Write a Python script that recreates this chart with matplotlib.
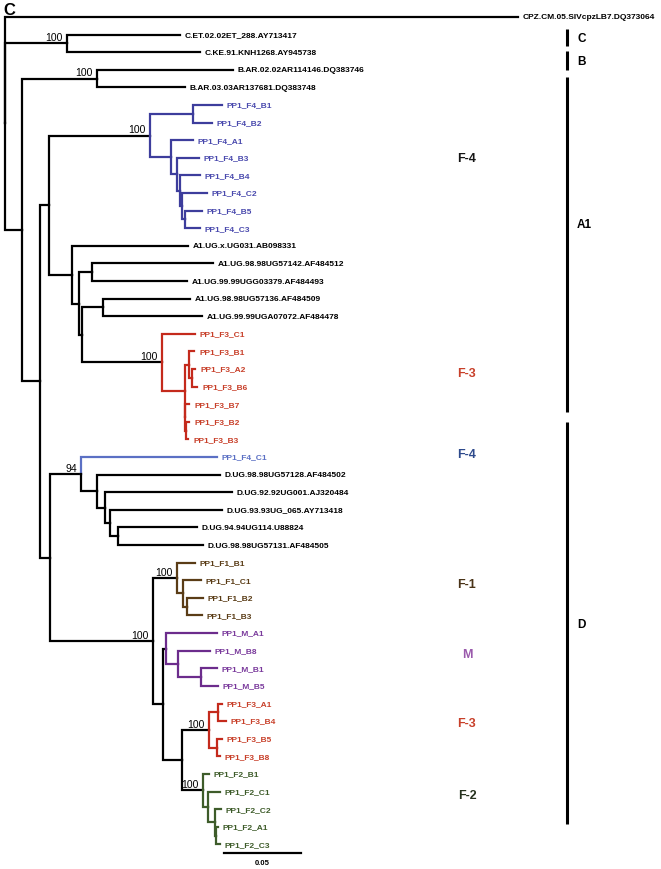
import matplotlib
matplotlib.use("Agg")
import matplotlib.pyplot as plt

plt.rcParams['font.family'] = ['Liberation Sans', 'DejaVu Sans']

# tree: node name, parent, branch length (substitutions/site); children listed in drawing order
node_names = [
    "root",
    "CPZ.CM.05.SIVcpzLB7.DQ373064",
    "nC", "C.ET.02.02ET_288.AY713417", "C.KE.91.KNH1268.AY945738",
    "n22",
    "nB", "B.AR.02.02AR114146.DQ383746", "B.AR.03.03AR137681.DQ383748",
    "n40", "n49",
    "nF4", "f4a", "PP1_F4_B1", "PP1_F4_B2",
    "f4b", "PP1_F4_A1", "f4c", "PP1_F4_B3", "f4d", "PP1_F4_B4", "f4e", "PP1_F4_C2",
    "f4f", "PP1_F4_B5", "PP1_F4_C3",
    "a1a", "A1.UG.x.UG031.AB098331", "a1b",
    "a1c", "A1.UG.98.98UG57142.AF484512", "A1.UG.99.99UGG03379.AF484493",
    "a1d", "a1e", "A1.UG.98.98UG57136.AF484509", "A1.UG.99.99UGA07072.AF484478",
    "nF3a", "PP1_F3_C1", "f3a", "f3b", "PP1_F3_B1", "f3c", "PP1_F3_A2", "PP1_F3_B6",
    "f3d", "PP1_F3_B7", "f3e", "PP1_F3_B2", "PP1_F3_B3",
    "n50", "n94", "PP1_F4_C1",
    "d1", "D.UG.98.98UG57128.AF484502", "d2", "D.UG.92.92UG001.AJ320484",
    "d3", "D.UG.93.93UG_065.AY713418", "d4", "D.UG.94.94UG114.U88824", "D.UG.98.98UG57131.AF484505",
    "n153",
    "nF1", "PP1_F1_B1", "f1a", "PP1_F1_C1", "f1b", "PP1_F1_B2", "PP1_F1_B3",
    "n163",
    "nM", "PP1_M_A1", "m1", "PP1_M_B8", "m2", "PP1_M_B1", "PP1_M_B5",
    "n182",
    "nF3b", "g1", "PP1_F3_A1", "PP1_F3_B4", "g2", "PP1_F3_B5", "PP1_F3_B8",
    "nF2", "PP1_F2_B1", "h1", "PP1_F2_C1", "h2", "PP1_F2_C2", "h3", "PP1_F2_A1", "PP1_F2_C3",
]
node_parents = [
    None,
    "root",
    "root", "nC", "nC",
    "root",
    "n22", "nB", "nB",
    "n22", "n40",
    "n49", "nF4", "f4a", "f4a",
    "nF4", "f4b", "f4b", "f4c", "f4c", "f4d", "f4d", "f4e",
    "f4e", "f4f", "f4f",
    "n49", "a1a", "a1a",
    "a1b", "a1c", "a1c",
    "a1b", "a1d", "a1e", "a1e",
    "a1d", "nF3a", "nF3a", "f3a", "f3b", "f3b", "f3c", "f3c",
    "f3a", "f3d", "f3d", "f3e", "f3e",
    "n40", "n50", "n94",
    "n94", "d1", "d1", "d2",
    "d2", "d3", "d3", "d4", "d4",
    "n50",
    "n153", "nF1", "nF1", "f1a", "f1a", "f1b", "f1b",
    "n153",
    "n163", "nM", "nM", "m1", "m1", "m2", "m2",
    "n163",
    "n182", "nF3b", "g1", "g1", "nF3b", "g2", "g2",
    "n182", "nF2", "nF2", "h1", "h1", "h2", "h2", "h3", "h3",
]
branch_lengths = [
    0.0,
    0.3331,
    0.0403, 0.0734, 0.0864,
    0.0110,
    0.0487, 0.0883, 0.0571,
    0.0117, 0.0058,
    0.0656, 0.0279, 0.0188, 0.0123,
    0.0136, 0.0143, 0.0039, 0.0143, 0.0019, 0.0130, 0.0013, 0.0162,
    0.0019, 0.0110, 0.0097,
    0.0149, 0.0753, 0.0045,
    0.0084, 0.0786, 0.0617,
    0.0019, 0.0136, 0.0565, 0.0643,
    0.0519, 0.0214, 0.0149, 0.0032, 0.0032, 0.0019, 0.0019, 0.0032,
    0.0006, 0.0026, 0.0006, 0.0019, 0.0013,
    0.0065, 0.0201, 0.0883,
    0.0104, 0.0799, 0.0052, 0.0825,
    0.0032, 0.0727, 0.0052, 0.0513, 0.0552,
    0.0669,
    0.0156, 0.0117, 0.0039, 0.0117, 0.0026, 0.0104, 0.0097,
    0.0065,
    0.0019, 0.0331, 0.0078, 0.0208, 0.0149, 0.0104, 0.0110,
    0.0123,
    0.0175, 0.0058, 0.0026, 0.0052, 0.0052, 0.0032, 0.0019,
    0.0136, 0.0039, 0.0032, 0.0078, 0.0045, 0.0039, 0.0006, 0.0013, 0.0026,
]

bootstrap = {"nC": 100, "nB": 100, "nF4": 100, "nF3a": 100, "n94": 94,
             "n153": 100, "nF1": 100, "nF3b": 100, "nF2": 100}

# colour of branches below a clade node (or of a single leaf)
clade_colors = {"nF4": "#3d3d9c", "nF3a": "#c42a1c", "PP1_F4_C1": "#5b70c4",
                "nF1": "#5a3c16", "nM": "#6c2c8c", "nF3b": "#c42a1c", "nF2": "#3e5c2a"}
label_colors = {"#3d3d9c": "#4a4aae", "#c42a1c": "#c8402a", "#5b70c4": "#5b70c4",
                "#5a3c16": "#5a3c16", "#6c2c8c": "#7a3a9c", "#3e5c2a": "#3e5c2a"}

# cluster labels in the middle (text, row, colour)
cluster_text = ["F-4", "F-3", "F-4", "F-1", "M", "F-3", "F-2"]
cluster_rows = [8.0, 20.2, 24.8, 32.2, 36.2, 40.1, 44.2]
cluster_colors = ["#151515", "#c8402a", "#2e4a8c", "#4a3418", "#9a5aac", "#c8402a", "#26321e"]

# subtype brackets on the right (label, first row, last row, label row)
subtype_names = ["C", "B", "A1", "D"]
subtype_start = [0.68, 1.93, 3.41, 23.0]
subtype_end = [1.65, 3.01, 22.44, 45.85]
subtype_label_row = [1.19, 2.5, 11.76, 34.5]

scale_length = 0.05

# ---- layout ----
children = {n: [] for n in node_names}
parent_of = {}
blen = {}
for n, p, b in zip(node_names, node_parents, branch_lengths):
    parent_of[n] = p
    blen[n] = b
    if p is not None:
        children[p].append(n)

xpos, ypos = {}, {}
leaves = []


def place(n, x):
    xpos[n] = x
    if not children[n]:
        ypos[n] = len(leaves)
        leaves.append(n)
        return
    for c in children[n]:
        place(c, x + blen[c])
    ypos[n] = (ypos[children[n][0]] + ypos[children[n][-1]]) / 2


place("root", 0.0)


def edge_color(n):
    if not children[n] and n in clade_colors:
        return clade_colors[n]
    p = parent_of[n]
    while p is not None:
        if p in clade_colors:
            return clade_colors[p]
        p = parent_of[p]
    return "black"


fig = plt.figure(figsize=(6.61, 8.70), dpi=100)
ax = fig.add_axes([0, 0, 1, 1])
ax.axis("off")
ax.set_xlim(-0.00325, 0.426)
ax.set_ylim(48.4, -1.02)

for n in node_names:
    p = parent_of[n]
    if p is None:
        continue
    ax.plot([xpos[p], xpos[p], xpos[n]], [ypos[p], ypos[n], ypos[n]],
            color=edge_color(n), lw=1.6, solid_joinstyle="miter", solid_capstyle="projecting")

for n in leaves:
    c = edge_color(n)
    ax.annotate(n, (xpos[n], ypos[n]), xytext=(3.5, 0), textcoords="offset points",
                ha="left", va="center", fontsize=6, fontweight="bold",
                color=label_colors.get(c, "black"))

for n, v in bootstrap.items():
    ax.annotate(str(v), (xpos[n], ypos[n]), xytext=(-3, 1), textcoords="offset points",
                ha="right", va="bottom", fontsize=7.5, color="black")

cluster_x = 0.3
for t, r, c in zip(cluster_text, cluster_rows, cluster_colors):
    ax.text(cluster_x, r, t, ha="center", va="center", fontsize=9, fontweight="bold", color=c)

bar_x = 0.365
for name, s, e, lr in zip(subtype_names, subtype_start, subtype_end, subtype_label_row):
    ax.plot([bar_x, bar_x], [s, e], color="black", lw=2.2, solid_capstyle="butt")
    ax.text(bar_x + 0.0065, lr, name, ha="left", va="center", fontsize=8.5,
            fontweight="bold", color="black")

scale_x, scale_row = 0.1422, 47.5
ax.plot([scale_x, scale_x + scale_length], [scale_row, scale_row], color="black", lw=1.6)
ax.text(scale_x + scale_length / 2, scale_row + 0.35, "0.05", ha="center", va="top",
        fontsize=5.5, fontweight="bold")

fig.text(0.005, 0.997, "C", ha="left", va="top", fontsize=12, fontweight="bold")

fig.savefig("out.png", dpi=100)
